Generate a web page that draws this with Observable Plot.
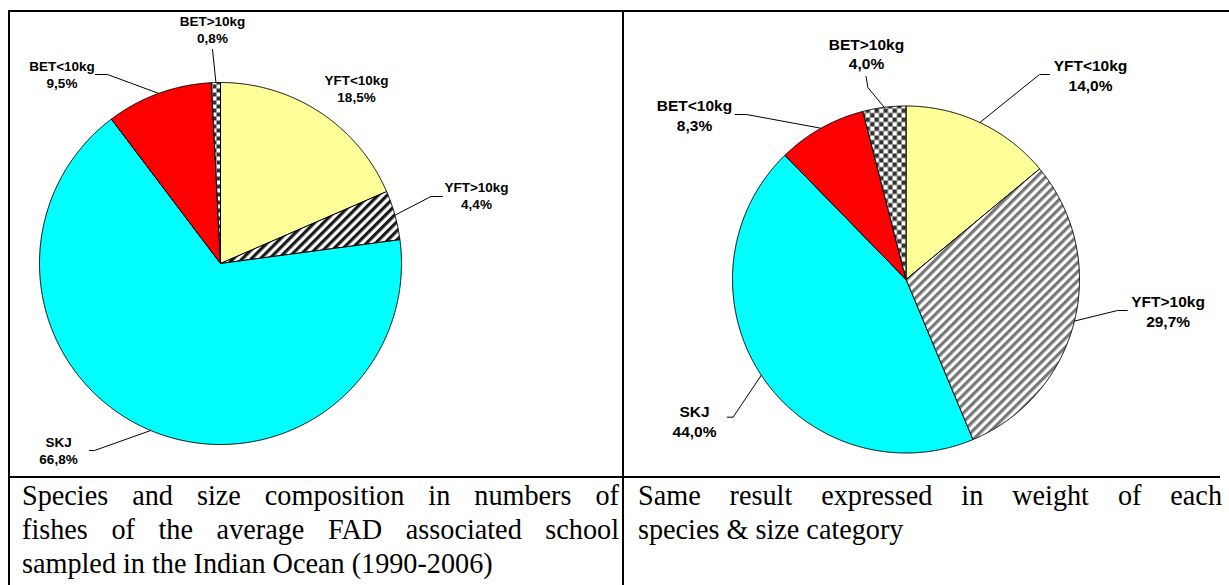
<!DOCTYPE html>
<html><head><meta charset="utf-8">
<script src="https://cdn.jsdelivr.net/npm/d3@7"></script>
<script src="https://cdn.jsdelivr.net/npm/@observablehq/plot@0.6"></script>
<style>
body{margin:0;background:#fff}
#page{position:relative;width:1229px;height:585px;overflow:hidden;background:#fff}
.rule{position:absolute;background:#000}
.panel{position:absolute;top:0}
.cap{position:absolute;font-family:"Liberation Serif","Times New Roman",serif;font-size:30px;line-height:34px;color:#000;transform-origin:0 0}
.cap div{white-space:nowrap}
.cap div.j{text-align:justify;text-align-last:justify;white-space:normal}
</style></head>
<body><div id="page"></div>
<script>
// ---- data ----
const categories = ["YFT<10kg", "YFT>10kg", "SKJ", "BET<10kg", "BET>10kg"];
const pctNumbers = [18.5, 4.4, 66.8, 9.5, 0.8];
const pctWeight = [14.0, 29.7, 44.0, 8.3, 4.0];
const lblNumbers = ["18,5%", "4,4%", "66,8%", "9,5%", "0,8%"];
const lblWeight = ["14,0%", "29,7%", "44,0%", "8,3%", "4,0%"];
const captionNumbers = ["Species and size composition in numbers of", "fishes of the average FAD associated school", "sampled in the Indian Ocean (1990-2006)"];
const captionWeight = ["Same result expressed in weight of each", "species & size category"];

// ---- layout / styles ----
const layoutLeft = {
  left: 0, width: 622, height: 477, cx: 220, cy: 263, r: 181, fs: 13.5, lh: 17,
  fills: ["#FFFF99", "url(#hatchL)", "#00FFFF", "#FF0000", "url(#checkL)"],
  labels: [
    {x: 356, b: 84.3, path: []},
    {x: 476, b: 191.7, path: [[442, 196], [430.5, 196]]},
    {x: 58, b: 446.7, path: [[89, 450], [94, 450]]},
    {x: 61.5, b: 70.7, path: [[95, 74], [107, 74]]},
    {x: 212, b: 25, path: [[212, 49]]}
  ],
  defs: `<defs>
  <pattern id="hatchL" patternUnits="userSpaceOnUse" width="6.4" height="6.4" patternTransform="rotate(45)"><rect width="6.4" height="6.4" fill="#fff"/><rect width="3.2" height="6.4" fill="#1a1a1a"/></pattern>
  <pattern id="checkL" patternUnits="userSpaceOnUse" width="8" height="8"><rect width="8" height="8" fill="#fff"/><rect width="4" height="4" fill="#333"/><rect x="4" y="4" width="4" height="4" fill="#333"/></pattern>
  </defs>`
};
const layoutRight = {
  left: 622, width: 607, height: 477, cx: 283.5, cy: 279, r: 173.5, fs: 15.5, lh: 19.5,
  fills: ["#FFFF99", "url(#hatchR)", "#00FFFF", "#FF0000", "url(#checkR)"],
  labels: [
    {x: 468, b: 70.5, path: [[427, 74], [417, 74]]},
    {x: 545.6, b: 306.7, path: [[504.8, 310], [495, 310]]},
    {x: 72, b: 416.7, path: [[104.8, 416.7], [110.6, 416.7]]},
    {x: 72, b: 110.7, path: [[112.6, 114], [124, 114]]},
    {x: 244, b: 49, path: [[243.5, 76], [245.4, 87]]}
  ],
  defs: `<defs>
  <pattern id="hatchR" patternUnits="userSpaceOnUse" width="6.4" height="6.4" patternTransform="rotate(45)"><rect width="6.4" height="6.4" fill="#fff"/><rect width="3.2" height="6.4" fill="#777"/></pattern>
  <pattern id="checkR" patternUnits="userSpaceOnUse" width="9" height="9"><rect width="9" height="9" fill="#fff"/><rect width="4.5" height="4.5" fill="#333"/><rect x="4.5" y="4.5" width="4.5" height="4.5" fill="#333"/></pattern>
  </defs>`
};
const captionScaleX = 0.94;

const page = document.getElementById("page");
function rule(l, t, w, h) {
  const d = document.createElement("div");
  d.className = "rule";
  Object.assign(d.style, {left: l + "px", top: t + "px", width: w + "px", height: h + "px"});
  page.appendChild(d);
}

function pie(values, valueLabels, L) {
  const arcs = d3.pie().sort(null).value(d => d)(values);
  const ux = px => (px - L.cx) / L.r, uy = py => (L.cy - py) / L.r;
  const marks = [];
  arcs.forEach((a, i) => {
    const pts = [{x: 0, y: 0}];
    const n = Math.max(2, Math.ceil((a.endAngle - a.startAngle) / (Math.PI / 720)));
    for (let k = 0; k <= n; k++) {
      const t = a.startAngle + (a.endAngle - a.startAngle) * k / n;
      pts.push({x: Math.sin(t), y: Math.cos(t)});
    }
    pts.push({x: 0, y: 0});
    marks.push(Plot.line(pts, {x: "x", y: "y", fill: () => L.fills[i], stroke: "#000", strokeWidth: 1, strokeLinejoin: "miter"}));
  });
  const leaders = [];
  arcs.forEach((a, i) => {
    const p = L.labels[i].path;
    if (!p.length) return;
    const m = (a.startAngle + a.endAngle) / 2;
    p.forEach(([px, py]) => leaders.push({k: i, x: ux(px), y: uy(py)}));
    leaders.push({k: i, x: Math.sin(m), y: Math.cos(m)});
  });
  marks.push(Plot.line(leaders, {x: "x", y: "y", z: "k", stroke: "#000", strokeWidth: 1}));
  const rows = categories.map((c, i) => ({
    name: c, value: valueLabels[i],
    x: ux(L.labels[i].x), y1: uy(L.labels[i].b), y2: uy(L.labels[i].b + L.lh)
  }));
  const ts = {fontFamily: "'Liberation Sans', Arial, sans-serif", fontWeight: "bold", fontSize: L.fs, textAnchor: "middle", lineAnchor: "bottom", fill: "#000"};
  marks.push(Plot.text(rows, {x: "x", y: "y1", text: "name", ...ts}));
  marks.push(Plot.text(rows, {x: "x", y: "y2", text: "value", ...ts}));
  const svg = Plot.plot({
    width: L.width, height: L.height, margin: 0,
    x: {domain: [-1, 1], range: [L.cx - L.r, L.cx + L.r], axis: null},
    y: {domain: [-1, 1], range: [L.cy + L.r, L.cy - L.r], axis: null},
    color: {type: "identity"},
    style: {background: "transparent", overflow: "visible"},
    marks
  });
  svg.insertAdjacentHTML("afterbegin", L.defs);
  const wrap = document.createElement("div");
  wrap.className = "panel";
  wrap.style.left = L.left + "px";
  wrap.appendChild(svg);
  page.appendChild(wrap);
}

pie(pctNumbers, lblNumbers, layoutLeft);
pie(pctWeight, lblWeight, layoutRight);

function caption(lines, left, width, justifyCount) {
  const d = document.createElement("div");
  d.className = "cap";
  Object.assign(d.style, {left: left + "px", top: "478px", width: (width / captionScaleX) + "px", transform: `scaleX(${captionScaleX})`});
  lines.forEach((t, i) => {
    const l = document.createElement("div");
    l.textContent = t;
    if (i < justifyCount) l.className = "j";
    d.appendChild(l);
  });
  page.appendChild(d);
}
caption(captionNumbers, 22, 597, 2);
caption(captionWeight, 638, 584, 1);

// table rules
rule(8, 10, 1221, 2);
rule(8, 10, 2, 575);
rule(622, 10, 2, 467);
rule(622, 477, 1.5, 108);
rule(8, 476, 1212, 2);
</script></body></html>
